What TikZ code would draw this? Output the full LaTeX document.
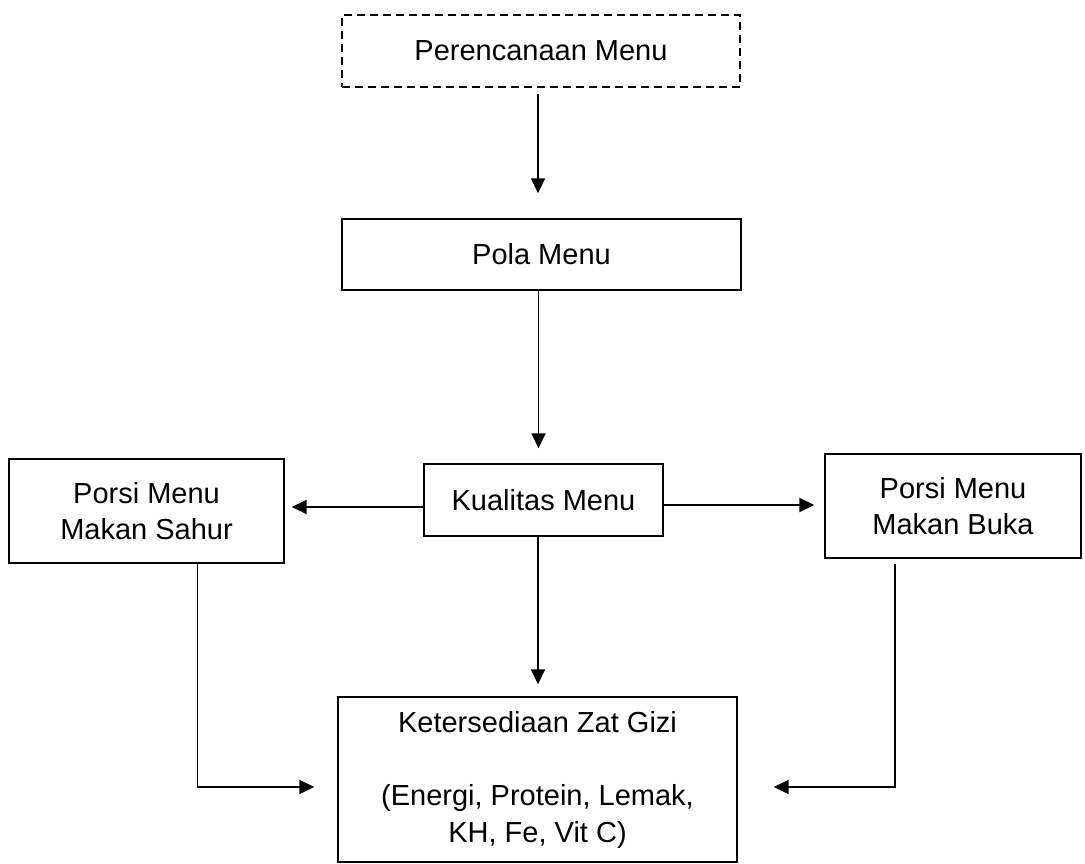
\documentclass[tikz,border=0pt]{standalone}
\usepackage{fontspec}
\setmainfont{Liberation Sans}
\usetikzlibrary{arrows.meta}
\begin{document}
\begin{tikzpicture}[x=1pt,y=-1pt,
  box/.style={draw, line width=1.4pt, inner sep=0pt, align=center,
    font=\fontsize{29}{38}\selectfont},
  dbox/.style={box, dash pattern=on 8pt off 5pt},
  arr/.style={line width=1.8pt, -{Triangle[length=15pt,width=14pt]}}
]
\useasboundingbox (0,0) rectangle (1085,863);
\node[dbox, minimum width=398pt, minimum height=72pt] (per) at (541,51) {Perencanaan Menu};
\node[box, minimum width=399pt, minimum height=71pt] (pola) at (541.5,254.5) {Pola Menu};
\node[box, minimum width=239pt, minimum height=72pt] (kual) at (543.5,500) {Kualitas Menu};
\node[box, minimum width=275pt, minimum height=104pt] (sahur) at (146.5,511) {Porsi Menu\\[-2pt]Makan Sahur};
\node[box, minimum width=256pt, minimum height=104pt] (buka) at (953,506) {Porsi Menu\\[-2pt]Makan Buka};
\node[box, minimum width=399pt, minimum height=165pt] (ket) at (537.5,779.5)
  {Ketersediaan Zat Gizi\\[35pt](Energi, Protein, Lemak,\\[-1pt]KH, Fe, Vit C)};

\draw[arr, shorten <=6pt, shorten >=25pt] ([xshift=-3pt]per.south) -- ([xshift=-3pt]per.south |- pola.north);
\draw[arr, shorten >=15pt] ([xshift=-3pt]pola.south) -- ([xshift=-3pt]pola.south |- kual.north);
\draw[arr, shorten >=12pt] ([xshift=-5.5pt]kual.south) -- ([xshift=-5.5pt]kual.south |- ket.north);
\draw[arr, shorten >=7pt] ([yshift=-7pt]kual.west) -- ([yshift=-7pt]kual.west -| sahur.east);
\draw[arr, shorten >=10pt] ([yshift=-5pt]kual.east) -- ([yshift=-5pt]kual.east -| buka.west);
\draw[arr, shorten >=23pt] ([xshift=51pt]sahur.south) |- ([yshift=-7.5pt]ket.west);
\draw[arr, shorten <=5pt, shorten >=36pt] ([xshift=-58pt]buka.south) |- ([yshift=-7.5pt]ket.east);
\end{tikzpicture}
\end{document}
